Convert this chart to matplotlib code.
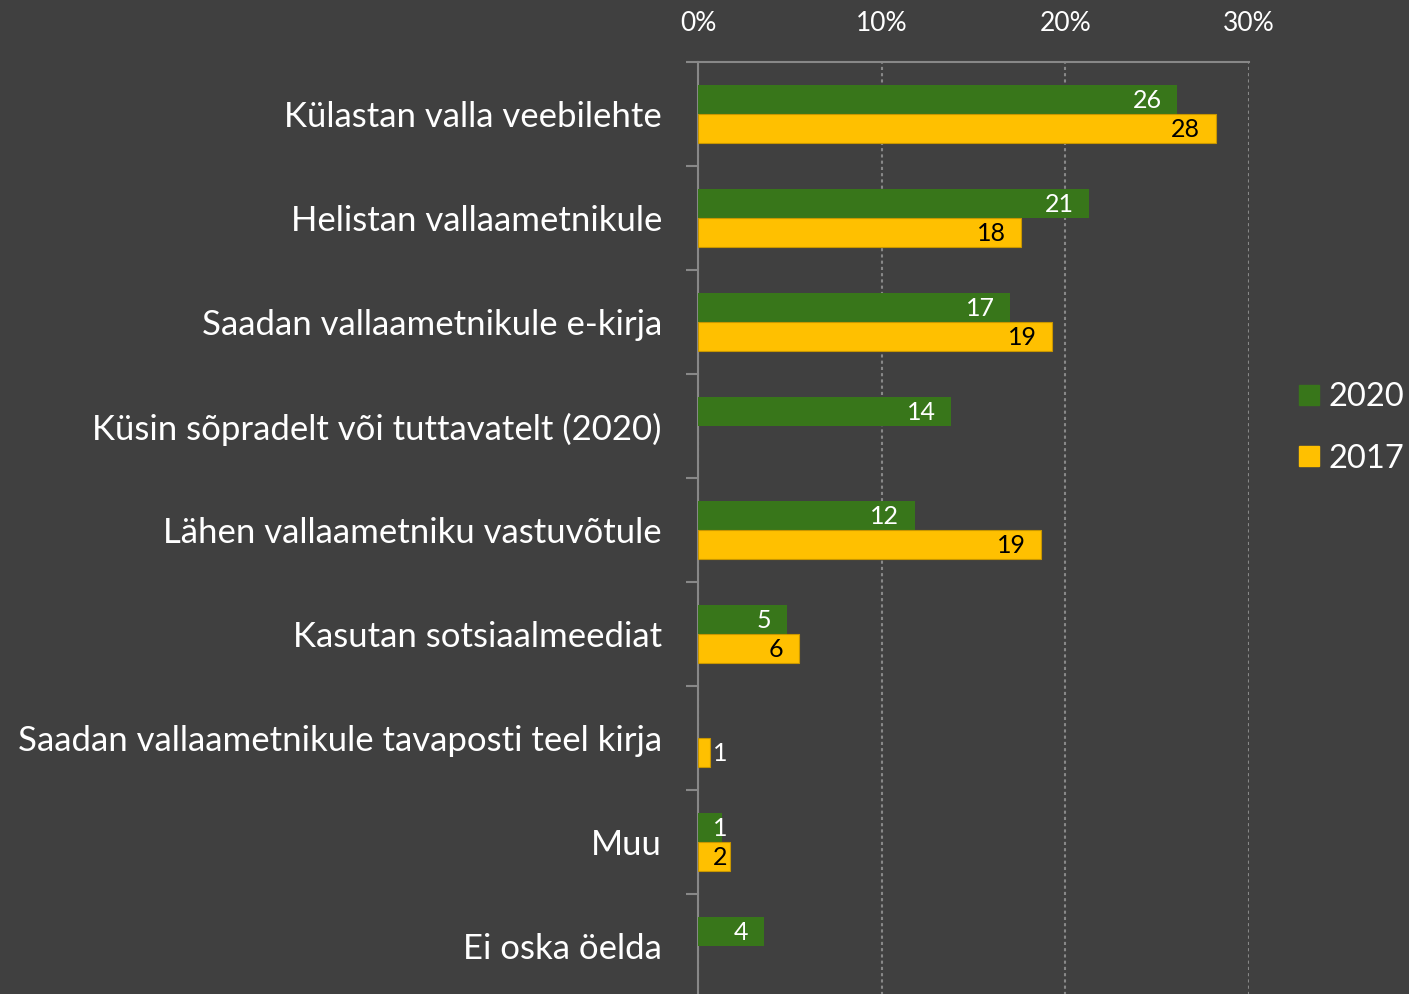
import numpy as np
import matplotlib.pyplot as plt
import matplotlib.ticker as ticker
from matplotlib.lines import Line2D

plt.rcParams['font.family'] = ['Lato', 'DejaVu Sans']

categories = [
    "Külastan valla veebilehte",
    "Helistan vallaametnikule",
    "Saadan vallaametnikule e-kirja",
    "Küsin sõpradelt või tuttavatelt (2020)",
    "Lähen vallaametniku vastuvõtule",
    "Kasutan sotsiaalmeediat",
    "Saadan vallaametnikule tavaposti teel kirja",
    "Muu",
    "Ei oska öelda",
]
# bar lengths (%), labels as printed
values_2020 = [26.1, 21.3, 17.0, 13.8, 11.8, 4.85, np.nan, 1.3, 3.6]
labels_2020 = ["26", "21", "17", "14", "12", "5", "", "1", "4"]
values_2017 = [28.2, 17.6, 19.3, np.nan, 18.7, 5.5, 0.65, 1.75, np.nan]
labels_2017 = ["28", "18", "19", "", "19", "6", "1", "2", ""]
x_ticks = [0, 10, 20, 30]

BG = "#404040"
GREEN = "#38761a"
YELLOW = "#ffc000"
AXIS_GREY = "#888888"

fig = plt.figure(figsize=(14.09, 9.94), dpi=100, facecolor=BG)
ax = fig.add_axes([698 / 1409, -4 / 994, 551 / 1409, 936 / 994], facecolor=BG)

y = np.arange(len(categories))
h = 0.28
ax.barh(y - h / 2, values_2020, height=h, color=GREEN, zorder=3)
ax.barh(y + h / 2, values_2017, height=h, color=YELLOW, edgecolor="#c89600",
        linewidth=0.8, zorder=3)

def put_labels(vals, labs, ypos, inside_color):
    for v, lab, yy in zip(vals, labs, ypos):
        if not lab:
            continue
        xr = max(v - 0.85, 1.6)
        col = inside_color if xr <= v else "white"
        ax.text(xr, yy + 0.01, lab, ha="right", va="center", fontsize=18,
                color=col, zorder=4)

put_labels(values_2020, labels_2020, y - h / 2, "white")
put_labels(values_2017, labels_2017, y + h / 2, "black")

ax.set_xlim(0, 30)
ax.set_ylim(len(categories) - 0.5, -0.5)

ax.xaxis.tick_top()
ax.set_xticks(x_ticks)
ax.xaxis.set_major_formatter(ticker.FuncFormatter(lambda x, pos: f"{x:.0f}%"))
ax.tick_params(axis="x", length=0, pad=19, labelsize=19, colors="white")
ax.grid(axis="x", linestyle=(0, (1.5, 1.5)), color=AXIS_GREY, linewidth=1.5, zorder=1)

ax.set_yticks(np.arange(-0.5, len(categories), 1.0))
ax.set_yticklabels([])
ax.set_yticks(y, minor=True)
ax.set_yticklabels(categories, minor=True)
ax.tick_params(axis="y", which="major", length=8.6, width=1.5, color=AXIS_GREY)
ax.tick_params(axis="y", which="minor", length=0, pad=26, labelsize=25,
               labelcolor="white")

for s in ["right", "bottom"]:
    ax.spines[s].set_visible(False)
for s in ["left", "top"]:
    ax.spines[s].set_color(AXIS_GREY)
    ax.spines[s].set_linewidth(1.5)

handles = [
    Line2D([], [], marker="s", linestyle="none", markersize=15, color=GREEN),
    Line2D([], [], marker="s", linestyle="none", markersize=15, color=YELLOW),
]
fig.legend(handles, ["2020", "2017"], loc="center left",
           bbox_to_anchor=(1296 / 1409, 1 - 428 / 994), frameon=False,
           borderpad=0, borderaxespad=0,
           fontsize=23.5, labelcolor="white", handlelength=0.8, handletextpad=0.2,
           labelspacing=0.95)

fig.savefig("out.png", dpi=100, facecolor=BG)
